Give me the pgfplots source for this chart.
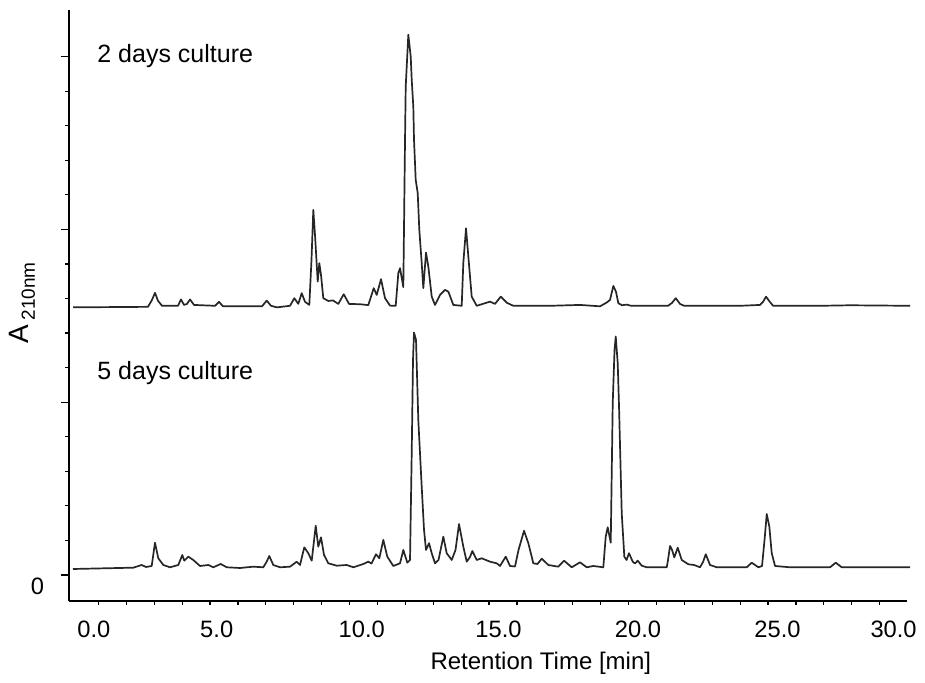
\documentclass[border=0pt]{standalone}
\usepackage{pgfplots}
\pgfplotsset{compat=1.18}
\usepackage{fontspec}
\setmainfont{Liberation Sans}
\begin{document}
\begin{tikzpicture}
\begin{axis}[
  at={(34.5pt,41pt)}, anchor=south west,
  width=419pt, height=295.5pt, scale only axis,
  clip=false,
  xmin=-0.394, xmax=29.64, ymin=-0.1505, ymax=3.27,
  axis x line*=bottom, axis y line*=left,
  axis line style={-, line width=0.9pt, black},
  tick align=outside,
  major tick length=4pt, minor tick length=1.8pt,
  every tick/.style={black, line width=0.6pt},
  xtick={0.5,4.9,10.1,15,20,25,29.16},
  xticklabels={0.0,5.0,10.0,15.0,20.0,25.0,30.0},
  minor xtick={0.66,1.66,...,28.66},
  major x tick style={draw=none},
  ytick={0,1,2,3}, yticklabels={0,{},{},{}},
  minor y tick num=4,
  /pgf/number format/assume math mode=true,
  ticklabel style={font=\fontsize{11.85}{13}\selectfont},
  xticklabel shift=2.2pt,
  yticklabel style={yshift=-5.5pt},
  yticklabel shift=5pt,
  xlabel={Retention Time [min]},
  xlabel style={at={(axis description cs:0.563,-0.105)}, anchor=center, font=\fontsize{12}{14}\selectfont},
  ylabel={A\,\raisebox{-0.45ex}{\fontsize{9.5}{10}\selectfont 210nm}},
  ylabel style={at={(axis description cs:-0.056,0.504)}, anchor=center, font=\fontsize{14}{15}\selectfont},
]
% 2 days culture
\addplot[line width=0.85pt, color=black!85, line join=round, mark=none] coordinates {
(-0.25,1.549) (2.437,1.552) (2.58,1.592) (2.688,1.633) (2.796,1.587) (2.939,1.558)
(3.513,1.558) (3.620,1.595) (3.728,1.563) (3.835,1.569) (3.943,1.595) (4.086,1.563)
(4.839,1.558) (4.982,1.581) (5.125,1.555) (6.523,1.555) (6.692,1.588) (6.846,1.558)
(7.061,1.549) (7.527,1.558) (7.681,1.602) (7.824,1.569) (7.946,1.631) (8.065,1.581)
(8.219,1.563) (8.297,1.824) (8.362,2.113) (8.423,1.968) (8.520,1.698) (8.577,1.805)
(8.638,1.737) (8.720,1.602) (8.900,1.586) (9.068,1.589) (9.258,1.569) (9.452,1.625)
(9.642,1.569) (10.036,1.567) (10.333,1.562) (10.527,1.660) (10.634,1.621) (10.789,1.712)
(10.932,1.602) (11.111,1.559) (11.315,1.558) (11.409,1.747) (11.470,1.776) (11.588,1.666)
(11.649,2.519) (11.674,2.827) (11.767,3.127) (11.853,3.001) (11.889,2.866) (11.946,2.711)
(11.971,2.519) (12.032,2.287) (12.104,2.210) (12.161,1.998) (12.247,1.805) (12.305,1.660)
(12.401,1.866) (12.484,1.785) (12.606,1.611) (12.724,1.563) (12.903,1.621) (13.082,1.650)
(13.201,1.640) (13.380,1.563) (13.681,1.558) (13.738,1.805) (13.835,2.007) (13.918,1.843)
(14.039,1.611) (14.219,1.558) (14.695,1.582) (14.875,1.569) (15.079,1.611) (15.305,1.575)
(15.530,1.558) (16.846,1.558) (17.921,1.563) (18.638,1.555) (18.878,1.577) (18.996,1.592)
(19.115,1.673) (19.211,1.639) (19.294,1.573) (19.427,1.561) (19.595,1.565) (19.749,1.558)
(21.075,1.558) (21.219,1.575) (21.351,1.602) (21.505,1.569) (21.649,1.558) (23.656,1.558)
(24.373,1.563) (24.480,1.581) (24.588,1.611) (24.695,1.587) (24.839,1.558) (26.523,1.558)
(27.599,1.561) (29.749,1.558)
};
% 5 days culture
\addplot[line width=0.85pt, color=black!85, line join=round, mark=none] coordinates {
(-0.251,0.0347) (1.910,0.0423) (2.211,0.0579) (2.366,0.0463) (2.570,0.0521) (2.688,0.187)
(2.806,0.0967) (2.986,0.0579) (3.226,0.0446) (3.523,0.0579) (3.667,0.1158) (3.738,0.0828)
(3.882,0.106) (4.061,0.0869) (4.301,0.0521) (4.599,0.0579) (4.778,0.0446) (5.043,0.0637)
(5.258,0.0446) (5.735,0.0405) (6.211,0.0481) (6.570,0.0446) (6.685,0.0753) (6.785,0.110)
(6.928,0.0579) (7.168,0.0446) (7.527,0.0481) (7.767,0.0770) (7.885,0.0579) (8.039,0.160)
(8.183,0.126) (8.305,0.0828) (8.448,0.285) (8.541,0.164) (8.638,0.218) (8.746,0.116)
(8.900,0.0677) (9.201,0.0538) (9.559,0.0579) (9.796,0.0446) (10.154,0.0637) (10.333,0.0770)
(10.448,0.0666) (10.609,0.120) (10.728,0.0967) (10.871,0.203) (11.014,0.106) (11.229,0.0521)
(11.470,0.0677) (11.588,0.145) (11.731,0.0712) (11.828,0.0869) (11.889,0.705) (11.935,1.245)
(11.971,1.403) (12.043,1.361) (12.125,0.897) (12.247,0.511) (12.330,0.261) (12.401,0.145)
(12.509,0.184) (12.606,0.126) (12.724,0.0677) (12.849,0.0869) (13.022,0.222) (13.143,0.126)
(13.323,0.0869) (13.459,0.145) (13.584,0.295) (13.738,0.164) (13.860,0.0770) (13.978,0.104)
(14.061,0.139) (14.219,0.0869) (14.398,0.0967) (14.695,0.0770) (14.935,0.0677) (15.054,0.0521)
(15.258,0.106) (15.412,0.0521) (15.591,0.0492) (15.717,0.145) (15.914,0.256) (16.068,0.184)
(16.247,0.0677) (16.398,0.0637) (16.548,0.0944) (16.785,0.0579) (17.143,0.0481) (17.348,0.0828)
(17.624,0.0446) (17.921,0.0735) (18.161,0.0446) (18.398,0.0521) (18.756,0.0446) (18.842,0.222)
(18.914,0.276) (19.022,0.187) (19.093,0.994) (19.158,1.303) (19.201,1.380) (19.272,1.226)
(19.319,0.975) (19.416,0.357) (19.509,0.106) (19.588,0.0869) (19.677,0.126) (19.810,0.0770)
(19.892,0.0666) (19.989,0.0828) (20.133,0.0538) (20.312,0.0446) (21.029,0.0446) (21.075,0.0869)
(21.147,0.168) (21.219,0.145) (21.301,0.102) (21.423,0.158) (21.566,0.0869) (21.803,0.0620)
(22.007,0.0579) (22.222,0.0446) (22.330,0.0753) (22.427,0.120) (22.581,0.0579) (22.821,0.0446)
(23.896,0.0446) (24.075,0.0712) (24.312,0.0446) (24.444,0.0521) (24.534,0.203) (24.613,0.353)
(24.706,0.280) (24.792,0.126) (24.910,0.0521) (25.448,0.0446) (26.882,0.0446) (27.086,0.0712)
(27.301,0.0446) (29.749,0.0446)
};
\node[anchor=west, inner sep=0pt, font=\fontsize{12.5}{14}\selectfont] at (axis cs:0.61,3.005) {2 days culture};
\node[anchor=west, inner sep=0pt, font=\fontsize{12.5}{14}\selectfont] at (axis cs:0.61,1.170) {5 days culture};
\end{axis}
\pgfresetboundingbox
\path[use as bounding box] (0,0) rectangle (462.5pt,341.5pt);
\end{tikzpicture}
\end{document}
